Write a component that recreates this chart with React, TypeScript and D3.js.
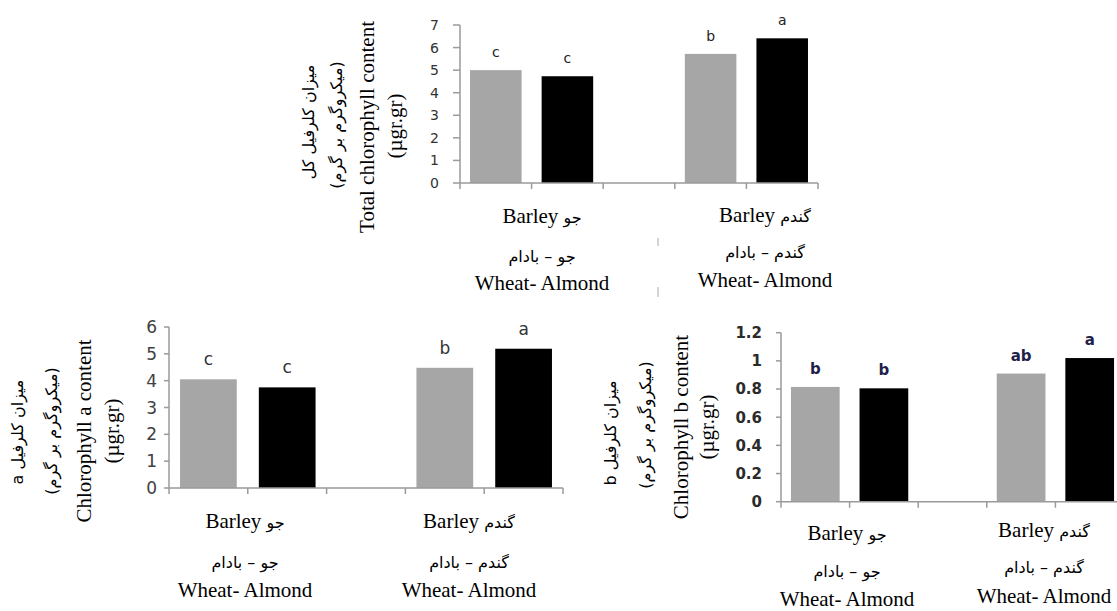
import React from 'react';
import * as d3 from 'd3';

// ---- data ----
const bandKeys = ["barley", "barleyAlmond", "gap", "wheat", "wheatAlmond"];
const barKeys = ["barley", "barleyAlmond", "wheat", "wheatAlmond"];
const barColors = ["#a6a6a6", "#000000", "#a6a6a6", "#000000"];

const totalValues = [5.0, 4.73, 5.72, 6.41];
const totalLetters = ["c", "c", "b", "a"];
const totalTicks = [0, 1, 2, 3, 4, 5, 6, 7];
const totalTickLabels = ["0", "1", "2", "3", "4", "5", "6", "7"];

const chlAValues = [4.05, 3.75, 4.48, 5.19];
const chlALetters = ["c", "c", "b", "a"];
const chlATicks = [0, 1, 2, 3, 4, 5, 6];
const chlATickLabels = ["0", "1", "2", "3", "4", "5", "6"];

const chlBValues = [0.815, 0.805, 0.91, 1.02];
const chlBLetters = ["b", "b", "ab", "a"];
const chlBTicks = [0, 0.2, 0.4, 0.6, 0.8, 1, 1.2];
const chlBTickLabels = ["0", "0.2", "0.4", "0.6", "0.8", "1", "1.2"];

const groupEn = ["Barley", "Barley"];
const groupFa = ["جو", "گندم"];
const groupLine2 = ["جو – بادام", "گندم – بادام"];
const groupLine3 = ["Wheat- Almond", "Wheat- Almond"];
const titleFa = ["میزان کلرفیل کل", "میزان کلرفیل a", "میزان کلرفیل b"];
const unitFa = "(میکروگرم بر گرم)";
const titleEn = ["Total chlorophyll content", "Chlorophyll a content", "Chlorophyll b content"];
const unitEn = "(µgr.gr)";

const panelData = [
  { values: totalValues, letters: totalLetters, ticks: totalTicks, tickLabels: totalTickLabels, yMax: 7 },
  { values: chlAValues, letters: chlALetters, ticks: chlATicks, tickLabels: chlATickLabels, yMax: 6 },
  { values: chlBValues, letters: chlBLetters, ticks: chlBTicks, tickLabels: chlBTickLabels, yMax: 1.2 },
];

// ---- layout ----
const layouts = [
  {
    x0: 460, x1: 818, yZero: 183, yTop: 25, pad: 0.28,
    tickLen: 7, tickGap: 21, tickSize: 14, tickWeight: 400, tickFill: "#333",
    letterSize: 14, letterWeight: 400, letterFill: "#222", letterGap: 13,
    titleX: [308, 336, 367, 395], titleY: [122, 125, 127, 126],
    groupX: [542, 765], rowY: [[223, 262, 290], [222, 258, 287]],
  },
  {
    x0: 169, x1: 563, yZero: 488, yTop: 327, pad: 0.28,
    tickLen: 5, tickGap: 12, tickSize: 17, tickWeight: 400, tickFill: "#404040",
    letterSize: 17, letterWeight: 400, letterFill: "#333", letterGap: 14,
    titleX: [17, 51, 84, 112], titleY: [432, 431, 431, 431],
    groupX: [245, 469], rowY: [[528, 568, 597], [528, 568, 597]],
  },
  {
    x0: 781, x1: 1124, yZero: 501.7, yTop: 332.7, pad: 0.29,
    tickLen: 5, tickGap: 19, tickSize: 15, tickWeight: 700, tickFill: "#2b2b2b",
    letterSize: 15, letterWeight: 700, letterFill: "#1f1f4a", letterGap: 13,
    titleX: [610, 645, 681, 707], titleY: [433, 425, 427, 427],
    groupX: [847, 1044], rowY: [[540, 577, 606], [537, 573, 603]],
  },
];

const axisColor = "#9a9a9a";
const serif = "Liberation Serif, DejaVu Serif, Times New Roman, serif";
const faFont = "DejaVu Sans, sans-serif";
const sans = "DejaVu Sans, Verdana, sans-serif";

function Panel({ idx }: { idx: number }) {
  const d = panelData[idx];
  const L = layouts[idx];
  const x = d3.scaleBand<string>().domain(bandKeys).range([L.x0, L.x1])
    .paddingInner(L.pad).paddingOuter(L.pad / 2);
  const y = d3.scaleLinear().domain([0, d.yMax]).range([L.yZero, L.yTop]);
  const step = x.step();
  const bounds = d3.range(bandKeys.length + 1).map((i) => L.x0 + i * step);

  const titles = [
    { t: titleFa[idx], f: faFont, s: 16, rtl: true },
    { t: unitFa, f: faFont, s: 16, rtl: true },
    { t: titleEn[idx], f: serif, s: 21, rtl: false },
    { t: unitEn, f: serif, s: 21, rtl: false },
  ];

  return (
    <g>
      {barKeys.map((k, i) => (
        <rect key={k} x={x(k)} y={y(d.values[i])} width={x.bandwidth()}
          height={y(0) - y(d.values[i])} fill={barColors[i]} />
      ))}
      {barKeys.map((k, i) => (
        <text key={"l" + k} x={(x(k) as number) + x.bandwidth() / 2} y={y(d.values[i]) - L.letterGap}
          textAnchor="middle" style={{ fontFamily: sans, fontSize: L.letterSize, fontWeight: L.letterWeight }}
          fill={L.letterFill}>{d.letters[i]}</text>
      ))}
      <line x1={L.x0} x2={L.x0} y1={y(0)} y2={y(d.yMax)} stroke={axisColor} strokeWidth={1.5} />
      {d.ticks.map((t, i) => (
        <g key={"t" + i}>
          <line x1={L.x0 - L.tickLen} x2={L.x0} y1={y(t)} y2={y(t)} stroke={axisColor} strokeWidth={1.5} />
          <text x={L.x0 - L.tickGap} y={y(t)} dy="0.36em" textAnchor="end"
            style={{ fontFamily: sans, fontSize: L.tickSize, fontWeight: L.tickWeight }}
            fill={L.tickFill}>{d.tickLabels[i]}</text>
        </g>
      ))}
      <line x1={L.x0} x2={L.x1} y1={y(0)} y2={y(0)} stroke={axisColor} strokeWidth={1.5} />
      {bounds.map((bx, i) => (
        <line key={"b" + i} x1={bx} x2={bx} y1={y(0)} y2={y(0) + 6} stroke={axisColor} strokeWidth={1.5} />
      ))}
      {titles.map((tt, i) => (
        <text key={"yt" + i} transform={`translate(${L.titleX[i]},${L.titleY[i]}) rotate(-90)`}
          textAnchor="middle" dominantBaseline="central"
          style={{ fontFamily: tt.f, fontSize: tt.s, direction: tt.rtl ? "rtl" : "ltr" }}
          fill="#000">{tt.t}</text>
      ))}
      {[0, 1].map((g) => (
        <g key={"g" + g}>
          <text x={L.groupX[g]} y={L.rowY[g][0]} textAnchor="middle" fill="#000" style={{ fontSize: 21 }}>
            <tspan style={{ fontFamily: serif }}>{groupEn[g]}</tspan>
            <tspan style={{ fontFamily: faFont, fontSize: 16 }}>{" " + groupFa[g]}</tspan>
          </text>
          <text x={L.groupX[g]} y={L.rowY[g][1]} textAnchor="middle"
            style={{ fontFamily: faFont, fontSize: 16, direction: "rtl" }} fill="#000">{groupLine2[g]}</text>
          <text x={L.groupX[g]} y={L.rowY[g][2]} textAnchor="middle"
            style={{ fontFamily: serif, fontSize: 21 }} fill="#000">{groupLine3[g]}</text>
        </g>
      ))}
    </g>
  );
}

export default function App() {
  return (
    <svg width={1117} height={611} viewBox="0 0 1117 611"
      style={{ position: "absolute", left: 0, top: 0, background: "#fff" }}>
      <rect x={0} y={0} width={1117} height={611} fill="#fff" />
      <Panel idx={0} />
      <Panel idx={1} />
      <Panel idx={2} />
      <line x1={658} x2={658} y1={238} y2={246} stroke="#aaa" strokeWidth={1} />
      <line x1={658} x2={658} y1={287} y2={297} stroke="#aaa" strokeWidth={1} />
    </svg>
  );
}
